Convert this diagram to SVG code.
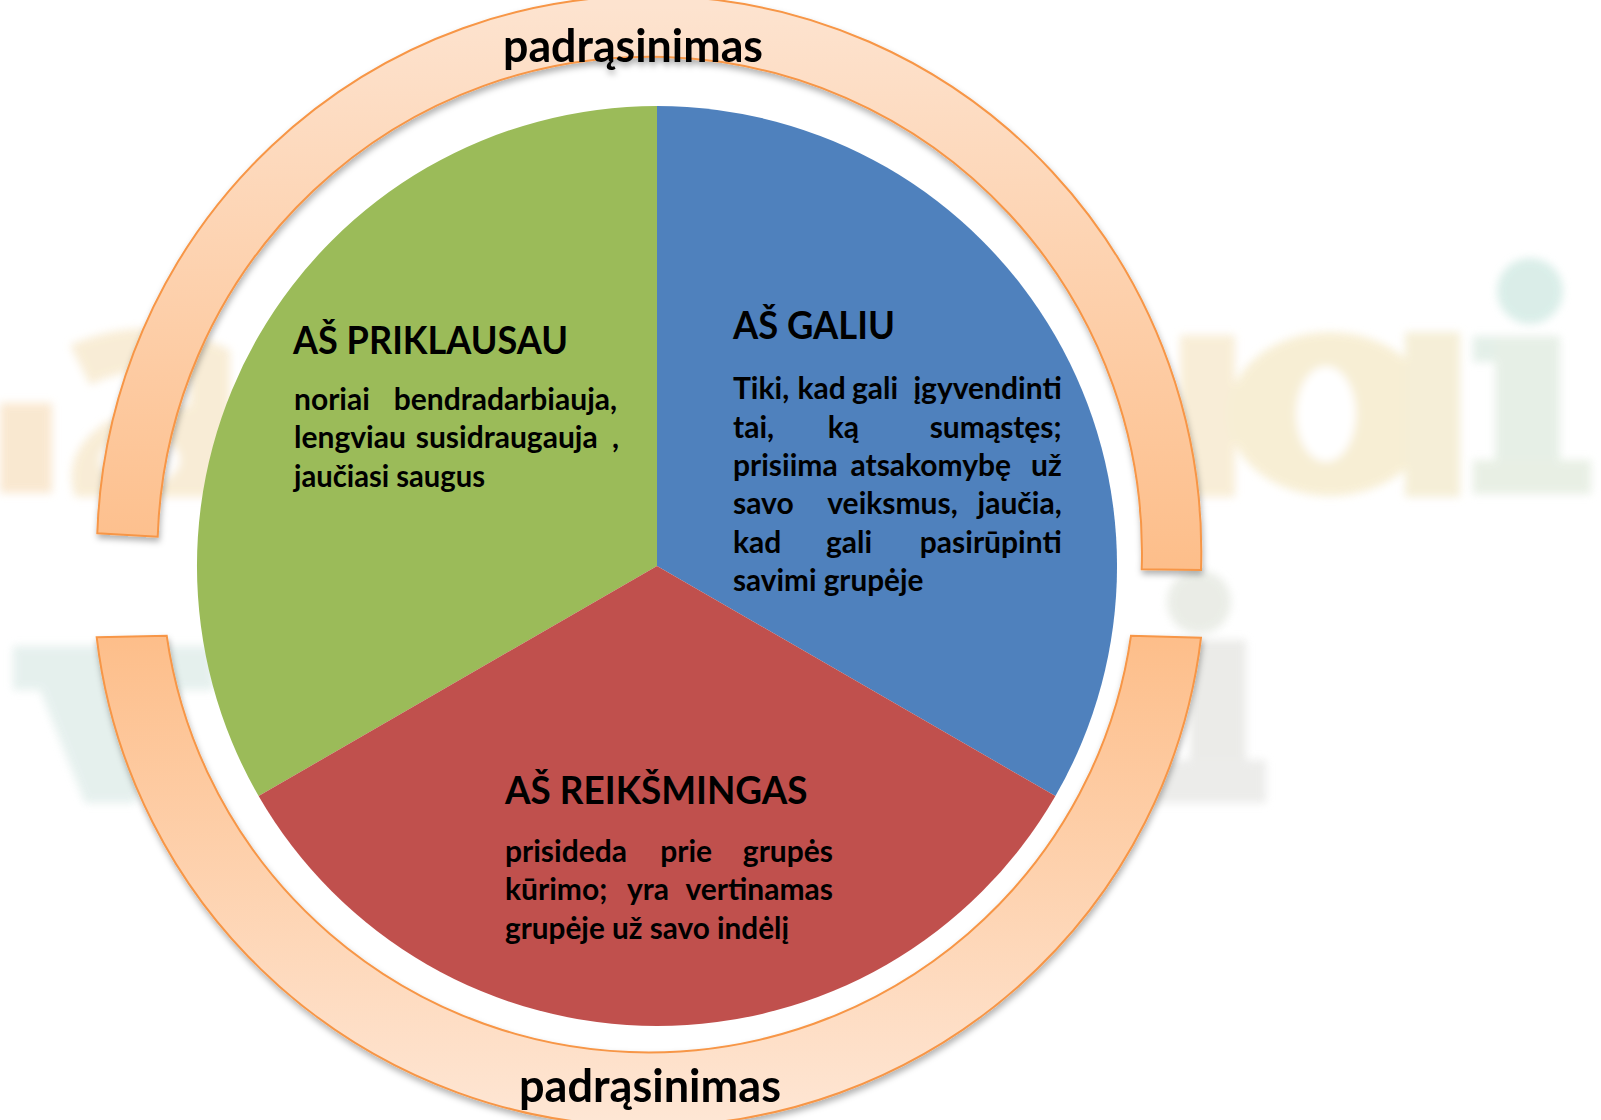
<svg xmlns="http://www.w3.org/2000/svg" width="1601" height="1120" viewBox="0 0 1601 1120">
  <style>
    .t { font-family: Lato, "Open Sans", "Liberation Sans", sans-serif; font-weight: 700; fill: #000; }
    .h { font-size: 38px; }
    .b { font-size: 30px; }
    .p { font-size: 46px; }
    .m { text-anchor: middle; }
    .e { text-anchor: end; }
    .arc { stroke: #F79646; stroke-width: 2; stroke-linejoin: miter; }
  </style>
  <defs>
    <linearGradient id="gTop" gradientUnits="userSpaceOnUse" x1="0" y1="7" x2="0" y2="570">
      <stop offset="0" stop-color="#FDE3CF"/>
      <stop offset="1" stop-color="#FDBE8A"/>
    </linearGradient>
    <linearGradient id="gBot" gradientUnits="userSpaceOnUse" x1="0" y1="636" x2="0" y2="1120">
      <stop offset="0" stop-color="#FDBE8A"/>
      <stop offset="1" stop-color="#FEE6D4"/>
    </linearGradient>
    <filter id="shadow" x="-10%" y="-10%" width="120%" height="120%">
      <feDropShadow dx="1" dy="4" stdDeviation="3" flood-color="#000" flood-opacity="0.3"/>
    </filter>
    <filter id="blur" x="-20%" y="-20%" width="140%" height="140%">
      <feGaussianBlur stdDeviation="4"/>
    </filter>
  </defs>

  <rect width="1601" height="1120" fill="#FFFFFF"/>

  <!-- faint background watermark -->
  <g id="watermark" filter="url(#blur)" opacity="0.9">
    <rect x="0" y="403" width="52" height="90" fill="#F9E6CC"/>
    <path d="M70,345 Q150,310 230,350 L230,497 L75,497 Q60,450 110,420 L190,405 L190,380 Q140,360 90,385 Z" fill="#F8EBD2"/>
    <ellipse cx="140" cy="460" rx="40" ry="25" fill="#FFFFFF"/>
    <rect x="1180" y="335" width="55" height="162" fill="#F8ECD3"/>
    <ellipse cx="1330" cy="414" rx="102" ry="82" fill="#F7EDD0"/>
    <ellipse cx="1326" cy="414" rx="30" ry="48" fill="#FFFFFF"/>
    <rect x="1405" y="332" width="55" height="165" fill="#F4EDD3"/>
    <rect x="1473" y="336" width="87" height="26" fill="#E1EEE6"/>
    <rect x="1495" y="336" width="65" height="158" fill="#E4EEE4"/>
    <rect x="1473" y="460" width="118" height="34" fill="#E6EEE2"/>
    <circle cx="1530" cy="291" r="33" fill="#D6ECE6"/>
    <path d="M13,646 L214,646 L214,690 L180,690 L135,803 L85,803 L40,690 L13,690 Z" fill="#E3EFEC"/>
    <circle cx="1199" cy="602" r="32" fill="#E8EBE4"/>
    <rect x="1160" y="640" width="86" height="40" fill="#EAEAE6"/>
    <rect x="1190" y="640" width="56" height="124" fill="#E9E9E6"/>
    <rect x="1150" y="760" width="116" height="43" fill="#EAEAE8"/>
  </g>

  <!-- pie -->
  <g id="pie">
    <g id="node-priklausau">
      <path d="M657,566 L657,106 A460,460 0 0 0 258.6,796 Z" fill="#9BBB59"/>
      <text class="t h" x="293" y="354" textLength="275" lengthAdjust="spacingAndGlyphs">AŠ PRIKLAUSAU</text>
      <text class="t b" x="294" y="410">noriai</text>
      <text class="t b e" x="617" y="410">bendradarbiauja,</text>
      <text class="t b" x="294" y="448.3">lengviau</text>
      <text class="t b m" x="506.7" y="448.3">susidraugauja</text>
      <text class="t b e" x="619" y="448.3">,</text>
      <text class="t b" x="294" y="486.7" textLength="191" lengthAdjust="spacingAndGlyphs">jaučiasi saugus</text>
    </g>
    <g id="node-galiu">
      <path d="M657,566 L657,106 A460,460 0 0 1 1055.4,796 Z" fill="#4F81BD"/>
      <text class="t h" x="733" y="339.3" textLength="162" lengthAdjust="spacingAndGlyphs">AŠ GALIU</text>
      <text class="t b" x="733" y="399.3">Tiki,</text>
      <text class="t b m" x="821.7" y="399.3">kad</text>
      <text class="t b m" x="875" y="399.3">gali</text>
      <text class="t b e" x="1061.7" y="399.3">įgyvendinti</text>
      <text class="t b" x="733" y="437.6">tai,</text>
      <text class="t b m" x="843.3" y="437.6">ką</text>
      <text class="t b e" x="1061.7" y="437.6">sumąstęs;</text>
      <text class="t b" x="733" y="475.9">prisiima</text>
      <text class="t b m" x="930.8" y="475.9">atsakomybę</text>
      <text class="t b e" x="1061.7" y="475.9">už</text>
      <text class="t b" x="733" y="514.2">savo</text>
      <text class="t b m" x="892.5" y="514.2">veiksmus,</text>
      <text class="t b e" x="1061.7" y="514.2">jaučia,</text>
      <text class="t b" x="733" y="552.5">kad</text>
      <text class="t b m" x="849" y="552.5">gali</text>
      <text class="t b e" x="1061.7" y="552.5">pasirūpinti</text>
      <text class="t b" x="733" y="590.8" textLength="190.3" lengthAdjust="spacingAndGlyphs">savimi grupėje</text>
    </g>
    <g id="node-reiksmingas">
      <path d="M657,566 L1055.4,796 A460,460 0 0 1 258.6,796 Z" fill="#C0504D"/>
      <text class="t h" x="505" y="804" textLength="302.6" lengthAdjust="spacingAndGlyphs">AŠ REIKŠMINGAS</text>
      <text class="t b" x="505" y="862">prisideda</text>
      <text class="t b m" x="686.2" y="862">prie</text>
      <text class="t b e" x="833" y="862">grupės</text>
      <text class="t b" x="505" y="900.3">kūrimo;</text>
      <text class="t b m" x="648" y="900.3">yra</text>
      <text class="t b e" x="833" y="900.3">vertinamas</text>
      <text class="t b" x="505" y="938.8" textLength="284" lengthAdjust="spacingAndGlyphs">grupėje už savo indėlį</text>
    </g>
  </g>

  <!-- encouragement ring -->
  <g id="ring" filter="url(#shadow)">
    <g id="node-ring-top">
      <path class="arc" fill="url(#gTop)" d="M97.3,533.3 A552,556 0 0 1 1201,570 L1141.7,569.3 A492,496 0 0 0 157.7,536.7 Z"/>
      <text class="t p" x="503" y="61.5" textLength="260" lengthAdjust="spacingAndGlyphs">padrąsinimas</text>
    </g>
    <g id="node-ring-bottom">
      <path class="arc" fill="url(#gBot)" d="M96.7,637.3 L166.7,635.7 A487,485 0 0 0 1131,635.7 L1201,637.7 A556,554 0 0 1 96.7,637.3 Z"/>
      <text class="t p" x="519" y="1102" textLength="262" lengthAdjust="spacingAndGlyphs">padrąsinimas</text>
    </g>
  </g>
</svg>
